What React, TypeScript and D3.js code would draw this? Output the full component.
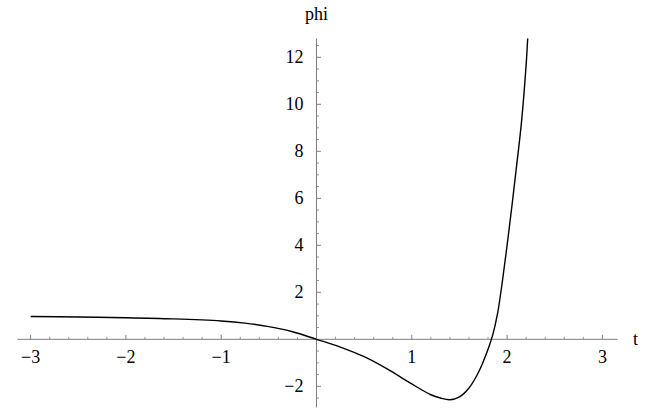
import React from "react";
import * as d3 from "d3";

const tValues = [-3, -2.5, -2, -1.5, -1, -0.75, -0.5, -0.25, 0, 0.25, 0.5, 0.75, 1, 1.2, 1.3, 1.4, 1.5, 1.6, 1.7, 1.8, 1.85, 1.9, 1.95, 2.0, 2.05, 2.1, 2.15, 2.2, 2.216];
const phiValues = [0.97, 0.95, 0.92, 0.87, 0.78, 0.69, 0.54, 0.32, 0, -0.33, -0.74, -1.28, -1.9, -2.36, -2.5, -2.57, -2.45, -2.07, -1.4, -0.42, 0.2, 1.1, 2.45, 4.0, 5.65, 7.4, 9.2, 11.7, 12.8];

const xMajorTicks = [-3, -2, -1, 1, 2, 3];
const yMajorTicks = [-2, 2, 4, 6, 8, 10, 12];
const xAxisExtent = [-3.14, 3.16];
const yAxisExtent = [-2.9, 12.8];
const xLabel = "t";
const yLabel = "phi";

const W = 661;
const H = 409;

export default function App() {
  const x = d3.scaleLinear().domain([0, 3]).range([316.5, 602.4]);
  const y = d3.scaleLinear().domain([0, 12]).range([339.3, 57.3]);

  const xMinor = d3.range(-3.0, 3.01, 0.2).map((v) => Math.round(v * 10) / 10).filter((v) => Math.abs(v - Math.round(v)) > 1e-6);
  const yMinor = d3.range(-2.5, 12.6, 0.5).filter((v) => Math.abs(v / 2 - Math.round(v / 2)) > 1e-6);

  const data = tValues.map((t, i) => [t, phiValues[i]] as [number, number]);
  const line = d3
    .line<[number, number]>()
    .x((d) => x(d[0]))
    .y((d) => y(d[1]))
    .curve(d3.curveCatmullRom.alpha(0.5));

  const axisColor = "#7f7f7f";
  const textStyle: React.CSSProperties = { fontFamily: "Liberation Serif, DejaVu Serif, serif", fontSize: "18px" };
  const fmt = (v: number) => (v < 0 ? "\u2212" + Math.abs(v) : String(v));

  return (
    <svg width={W} height={H} style={{ position: "absolute", left: 0, top: 0 }}>
      <rect width={W} height={H} fill="#fff" />
      {/* x axis */}
      <line x1={x(xAxisExtent[0])} x2={x(xAxisExtent[1])} y1={y(0)} y2={y(0)} stroke={axisColor} strokeWidth={1} />
      {xMajorTicks.map((v) => (
        <g key={"xm" + v}>
          <line x1={x(v)} x2={x(v)} y1={y(0)} y2={y(0) - 4.5} stroke={axisColor} strokeWidth={1} />
          <text x={x(v)} y={y(0) + 24} textAnchor="middle" style={textStyle} fill="#000">
            {fmt(v)}
          </text>
        </g>
      ))}
      {xMinor.map((v) => (
        <line key={"xn" + v} x1={x(v)} x2={x(v)} y1={y(0)} y2={y(0) - 2.5} stroke={axisColor} strokeWidth={0.8} />
      ))}
      {/* y axis */}
      <line x1={x(0)} x2={x(0)} y1={y(yAxisExtent[0])} y2={y(yAxisExtent[1])} stroke={axisColor} strokeWidth={1} />
      {yMajorTicks.map((v) => (
        <g key={"ym" + v}>
          <line x1={x(0)} x2={x(0) + 4.5} y1={y(v)} y2={y(v)} stroke={axisColor} strokeWidth={1} />
          <text x={x(0) - 13} y={y(v) + 6} textAnchor="end" style={textStyle} fill="#000">
            {fmt(v)}
          </text>
        </g>
      ))}
      {yMinor.map((v) => (
        <line key={"yn" + v} x1={x(0)} x2={x(0) + 2.5} y1={y(v)} y2={y(v)} stroke={axisColor} strokeWidth={0.8} />
      ))}
      {/* axis labels */}
      <text x={x(0)} y={20} textAnchor="middle" style={textStyle} fill="#000">
        {yLabel}
      </text>
      <text x={633} y={y(0) + 6} textAnchor="start" style={textStyle} fill="#000">
        {xLabel}
      </text>
      {/* curve */}
      <path d={line(data) || ""} fill="none" stroke="#000" strokeWidth={1.4} />
    </svg>
  );
}
